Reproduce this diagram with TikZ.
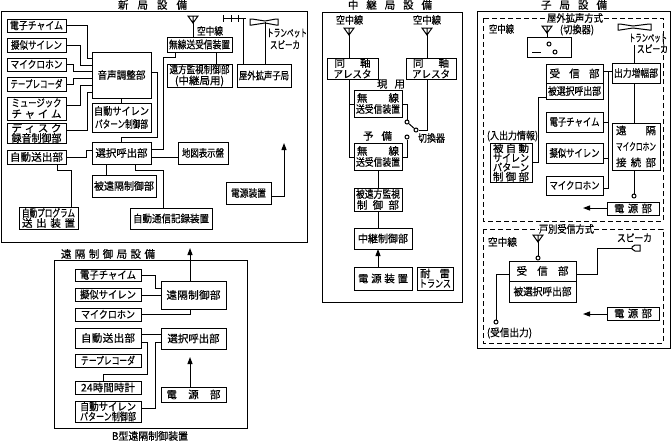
\documentclass[tikz,border=0pt]{standalone}
\usepackage{fontspec}
\usepackage{graphicx}
\usetikzlibrary{arrows.meta}
\setmainfont[FakeBold=0.4]{Noto Sans CJK JP}
\AtBeginDocument{\lineskiplimit=-100pt \lineskip=0pt}

% Evenly distributed characters across a fixed line width
\ExplSyntaxOn
\NewDocumentCommand\spreadchars{m}{\tl_map_inline:nn{#1}{##1\hfill}\unskip}
\ExplSyntaxOff
\newsavebox\fitbox
\newcommand\fit[2]{\leavevmode
  \sbox\fitbox{#2}%
  \vrule width 0pt height 8.5pt depth 1pt
  \ifdim\wd\fitbox>#1pt\relax
    \resizebox{#1pt}{\height}{\usebox\fitbox}%
  \else
    \hbox to #1pt{\spreadchars{#2}}%
  \fi}

\tikzset{
  boxed/.style={draw,line width=1pt,fill=white,inner sep=0pt,outer sep=0pt,align=center,
    font=\fontsize{10.5}{12}\selectfont},
  plain/.style={inner sep=0pt,outer sep=0pt,align=center,font=\fontsize{10.5}{12}\selectfont},
  frame/.style={draw,line width=1pt},
  dashframe/.style={draw,line width=1pt,dash pattern=on 5pt off 3pt},
  wire/.style={draw,line width=1pt},
  feed/.style={draw,line width=1pt,-{Triangle[width=5pt,length=7pt]}},
  port/.style={draw,line width=1pt,fill=white}
}

% Rectangle given by its corners, with a name and content
\newcommand\bx[6]{%
  \pgfmathsetmacro\cxv{(#2+#4)/2}\pgfmathsetmacro\cyv{(#3+#5)/2}%
  \pgfmathsetmacro\wv{#4-#2}\pgfmathsetmacro\hv{#5-#3}%
  \node[boxed,minimum width=\wv pt,minimum height=\hv pt] (#1) at (\cxv,\cyv) {#6};}
% Free label centred between x1 and x2 on height y
\newcommand\lb[5]{%
  \pgfmathsetmacro\cxv{(#2+#3)/2}\pgfmathsetmacro\wv{#3-#2}%
  \node[plain] (#1) at (\cxv,#4) {\fit{\wv}{#5}};}
% Same, masking what lies behind it
\newcommand\lbw[5]{%
  \pgfmathsetmacro\cxv{(#2+#3)/2}\pgfmathsetmacro\wv{#3-#2}%
  \node[plain,fill=white] (#1) at (\cxv,#4) {\fit{\wv}{#5}};}
% Antenna symbol: apex below, flat top
\newcommand\aerial[2]{\draw[wire] (#1-5,#2) -- (#1+5,#2) -- (#1,#2+7) -- cycle (#1,#2) -- (#1,#2+7);}
% Double horn loudspeaker
\newcommand\horn[3]{\draw[wire] (#1,#2) -- (#1+2,#2) -- (#1+15,#2+2) -- (#3-2,#2) -- (#3,#2) -- (#3,#2+6)
  -- (#3-2,#2+6) -- (#1+15,#2+4) -- (#1+2,#2+6) -- (#1,#2+6) -- cycle;}

\begin{document}
\begin{tikzpicture}[x=1pt,y=-1pt]
\useasboundingbox (0,0) rectangle (671,440);

% ---- headquarters equipment ----
\draw[frame] (1,11) rectangle (307,242);
\lb{tShin}{118}{187}{5}{新局設備}
\bx{chime}{7}{19}{66}{32}{\fit{53}{電子チャイム}}
\bx{giji}{7}{38}{66}{52}{\fit{51}{擬似サイレン}}
\bx{mic}{7}{58}{66}{71}{\fit{52}{マイクロホン}}
\bx{tape}{7}{77}{66}{91}{\fit{52}{テープレコーダ}}
\bx{music}{7}{97}{66}{120}{\fit{50}{ミュージック}\\[-1pt]\fit{50}{チャイム}}
\bx{disk}{7}{123}{66}{143}{\fit{50}{ディスク}\\[-2pt]\fit{50}{録音制御部}}
\bx{jido}{7}{150}{66}{164}{\fit{53}{自動送出部}}
\bx{onsei}{92}{52}{151}{98}{\fit{48}{音声調整部}}
\bx{apat}{92}{103}{151}{132}{\fit{55}{自動サイレン}\\[1pt]\fit{53}{パターン制御部}}
\bx{sentaku}{92}{142}{151}{164}{\fit{52}{選択呼出部}}
\bx{hien}{92}{175}{156}{197}{\fit{60}{被遠隔制御部}}
\bx{prog}{19}{207}{78}{229}{\fit{53}{自動プログラム}\\[-2pt]\fit{53}{送出装置}}
\bx{tsushin}{130}{208}{212}{229}{\fit{76}{自動通信記録装置}}
\bx{chizu}{178}{142}{228}{164}{\fit{42}{地図表示盤}}
\bx{psu}{226}{182}{271}{204}{\fit{35}{電源装置}}
\bx{musen}{167}{37}{232}{52}{\fit{61}{無線送受信装置}}
\bx{enpo}{167}{64}{232}{87}{\fit{60}{遠方監視制御部}\\[-1pt]{(中継局用)}}
\bx{okugai}{237}{64}{291}{87}{\fit{50}{屋外拡声子局}}
\lb{tAntA}{197}{223}{31}{空中線}
\lb{tTr}{267}{307}{33}{トランペット}
\lb{tSp}{270}{300}{45}{スピーカ}
\aerial{193}{16}
\coordinate (antA) at (193,23);
\coordinate (yagi) at (243,18);
\coordinate (hornA) at (265,22);
\coordinate (pwrTip) at (284,143);
\draw[wire] (223,18) -- (246,18) (223,15) -- (223,22) (231,15) -- (231,22) (238,15) -- (238,22);
\horn{250}{19}{278}
\draw[wire] (antA) -- (musen.north -| antA);
\draw[wire] (yagi) -- (okugai.north -| yagi);
\draw[wire] (hornA) -- (okugai.north -| hornA);
\draw[wire] (chime.east) -| (87,58) -- (onsei.west |- 0,58);
\draw[wire] (giji.east) -| (80,65) -- (onsei.west |- 0,65);
\draw[wire] (mic.east) -| (73,71) -- (onsei.west |- 0,71);
\draw[wire] (tape.east) -| (73,78) -- (onsei.west |- 0,78);
\draw[wire] (music.east |- 0,105) -| (80,85) -- (onsei.west |- 0,85);
\draw[wire] (disk.east |- 0,130) -| (87,92) -- (onsei.west |- 0,92);
\draw[wire] (onsei.south) -- (apat.north);
\draw[wire] (onsei.east |- 0,72) -| (157,137) -| (sentaku.north);
\draw[wire] (musen.south -| 175,0) -- (175,57) -| (163,149) -- (sentaku.east |- 0,149);
\draw[wire] (sentaku.east |- 0,157) -- (chizu.west |- 0,157);
\draw[wire] (sentaku.south -| 135,0) |- (163,170) -- (tsushin.north -| 163,0);
\draw[wire] (sentaku.south -| 106,0) -- (hien.north -| 106,0);
\draw[wire] (sentaku.west |- 0,150) -| (86,157) -- (jido.east);
\draw[wire] (jido.south -| 57,0) |- (71,170) -- (prog.north -| 71,0);
\draw[wire] (musen.south -| 216,0) -- (enpo.north -| 216,0);
\draw[feed] (psu.east |- 0,196) -| (pwrTip);

% ---- remote control station equipment ----
\draw[frame] (54,260) rectangle (247,428);
\lb{tEnk}{61}{155}{254}{遠隔制御局設備}
\lb{tCap}{112}{188}{436}{B型遠隔制御装置}
\bx{rChime}{75}{269}{141}{281}{\fit{56}{電子チャイム}}
\bx{rGiji}{75}{288}{141}{301}{\fit{56}{擬似サイレン}}
\bx{rMic}{75}{308}{141}{321}{\fit{54}{マイクロホン}}
\bx{rJido}{75}{328}{141}{348}{\fit{54}{自動送出部}}
\bx{rTape}{75}{354}{141}{367}{\fit{54}{テープレコーダ}}
\bx{rClock}{75}{381}{141}{394}{\fit{54}{{24}時間時計}}
\bx{rPat}{75}{401}{141}{422}{\fit{56}{自動サイレン}\\[-2pt]\fit{56}{パターン制御部}}
\bx{rEnk}{161}{281}{226}{309}{\fit{54}{遠隔制御部}}
\bx{rSen}{161}{328}{226}{349}{\fit{52}{選択呼出部}}
\bx{rPsu}{161}{387}{226}{402}{\fit{54}{電源部}}
\coordinate (rUp) at (190,248);
\coordinate (rIn) at (190,357);
\draw[feed] (rEnk.north -| rUp) -- (rUp);
\draw[feed] (rPsu.north -| rIn) -- (rIn);
\draw[wire] (rChime.east) -| (155,288) -- (rEnk.west |- 0,288);
\draw[wire] (rGiji.east |- 0,295) -- (rEnk.west |- 0,295);
\draw[wire] (rMic.east) -| (rEnk.south -| rUp);
\draw[wire] (rJido.east |- 0,334) -- (rSen.west |- 0,334);
\draw[wire] (rJido.east |- 0,342) -| (147,374) -| (rClock.north -| 103,0);
\draw[wire] (rPat.east |- 0,408) -| (155,342) -- (rSen.west |- 0,342);

% ---- relay station equipment ----
\draw[frame] (322,12) rectangle (462,302);
\lb{tChu}{348}{432}{5}{中継局設備}
\lb{tAntB}{336}{363}{20}{空中線}
\lb{tAntC}{413}{441}{20}{空中線}
\aerial{349}{28}
\aerial{427}{28}
\coordinate (antB) at (349,35);
\coordinate (antC) at (427,35);
\bx{arrL}{327}{58}{378}{79}{\fit{36}{同軸}\\[-1pt]\fit{38}{アレスタ}}
\bx{arrR}{406}{58}{456}{79}{\fit{36}{同軸}\\[-1pt]\fit{38}{アレスタ}}
\lb{tGen}{377}{405}{84}{現用}
\lb{tYo}{363}{392}{136}{予備}
\lb{tKir}{418}{445}{138}{切換器}
\bx{mUp}{354}{90}{402}{117}{\fit{42}{無線}\\[-1pt]\fit{44}{送受信装置}}
\bx{mLo}{354}{143}{402}{170}{\fit{42}{無線}\\[-1pt]\fit{44}{送受信装置}}
\bx{kan}{354}{188}{402}{211}{\fit{44}{被遠方監視}\\[-1pt]\fit{42}{制御部}}
\bx{chk}{354}{228}{412}{249}{\fit{50}{中継制御部}}
\bx{cPsu}{354}{267}{412}{290}{\fit{50}{電源装置}}
\bx{rai}{417}{267}{453}{290}{\fit{30}{耐雷}\\[-2pt]\fit{32}{トランス}}
\node[port,circle,inner sep=0pt,minimum size=4pt] (swA) at (407,122) {};
\node[port,circle,inner sep=0pt,minimum size=4pt] (swB) at (407,137) {};
\node[port,circle,inner sep=0pt,minimum size=4pt] (swC) at (416,130) {};
\draw[wire] (antB) -- (arrL.north -| antB);
\draw[wire] (antC) -- (arrR.north -| antC);
\draw[wire] (arrL.south -| antB) |- (mLo.west |- 0,157);
\draw[wire] (mUp.west |- 0,104) -- (349,104);
\draw[wire] (mUp.east |- 0,104) -| (swA.north);
\draw[wire] (mLo.east |- 0,157) -| (swB.south);
\draw[wire] (swA) -- (swC);
\draw[wire] (swC.east) -| (arrR.south -| antC);
\draw[wire] (mLo.south) -- (kan.north);
\draw[wire] (kan.south) -- (chk.north -| kan.south);
\draw[feed] (cPsu.north -| kan.south) -- (chk.south -| kan.south);

% ---- substation equipment ----
\draw[frame] (477,11) rectangle (670,348);
\lb{tKo}{541}{607}{5}{子局設備}
\draw[dashframe] (483,18) rectangle (663,221);
\lbw{tOku}{547}{603}{18}{屋外拡声方式}
\lb{tKiri}{560}{594}{30}{(切換器)}
\lb{tAntD}{489}{514}{29}{空中線}
\aerial{547}{26}
\coordinate (antD) at (547,33);
\bx{swBox}{527}{37}{571}{57}{}
\node[port,circle,inner sep=0pt,minimum size=4pt] (kA) at (549,44) {};
\node[port,circle,inner sep=0pt,minimum size=4pt] (kB) at (555,52) {};
\draw[wire] (532,52) -- (541,52);
\draw[wire] (antD) -- (swBox.north -| antD);
\horn{618}{24}{651}
\lb{tTrB}{629}{667}{38}{トランペット}
\lb{tSpB}{637}{668}{49}{スピーカ}
\coordinate (hornB) at (634,45);
\bx{out}{612}{63}{660}{83}{\fit{44}{出力増幅部}}
\bx{rcv}{546}{64}{603}{83}{\fit{50}{受信部}}
\bx{sel}{546}{83}{603}{99}{\fit{53}{被選択呼出部}}
\bx{sChime}{546}{112}{603}{132}{\fit{50}{電子チャイム}}
\bx{sGiji}{546}{143}{603}{163}{\fit{50}{擬似サイレン}}
\bx{sMic}{546}{176}{603}{195}{\fit{50}{マイクロホン}}
\bx{kei}{612}{123}{660}{170}{\fit{40}{遠隔}\\[4pt]\fit{40}{マイクロホン}\\[4pt]\fit{40}{接続部}}
\bx{sPat}{490}{143}{532}{182}{\fit{36}{被自動}\\[-2.5pt]\fit{36}{サイレン}\\[-2.5pt]\fit{36}{パターン}\\[-2.5pt]\fit{36}{制御部}}
\lb{tIO}{487}{538}{136}{(入出力情報)}
\bx{sPsu}{607}{202}{659}{215}{\fit{38}{電源部}}
\coordinate (sTip) at (583,208);
\node[port,circle,inner sep=0pt,minimum size=4pt] (sPort) at (634,196) {};
\draw[wire] (hornB) -- (out.north -| hornB);
\draw[wire] (out.south -| hornB) -- (kei.north -| hornB);
\draw[wire] (kei.south -| hornB) -- (sPort);
\draw[wire] (rcv.east |- 0,71) -- (out.west |- 0,71);
\draw[wire] (608,71) |- (sMic.east |- 0,188);
\draw[wire] (sChime.east |- 0,122) -- (608,122);
\draw[wire] (sGiji.east |- 0,158) -- (608,158);
\draw[wire] (sel.west |- 0,97) -| (538,162) -- (sPat.east |- 0,162);
\draw[feed] (sPsu.west |- 0,208) -- (sTip);

\draw[dashframe] (483,229) rectangle (663,343);
\lbw{tKob}{539}{594}{229}{戸別受信方式}
\lb{tAntE}{488}{517}{242}{空中線}
\lb{tSpE}{617}{652}{238}{スピーカ}
\lb{tOutE}{487}{532}{333}{(受信出力)}
\aerial{538}{235}
\coordinate (antE) at (538,242);
\node[port,circle,inner sep=0pt,minimum size=4pt] (ePort) at (538,258) {};
\bx{eRcv}{509}{261}{576}{281}{\fit{52}{受信部}}
\bx{eSel}{509}{281}{576}{302}{\fit{58}{被選択呼出部}}
\node[port,circle,inner sep=0pt,minimum size=4pt] (eOut) at (496,322) {};
\bx{ePsu}{607}{307}{659}{320}{\fit{38}{電源部}}
\coordinate (eHorn) at (632,248);
\coordinate (eTip) at (583,314);
\draw[wire] (632,247) -- (635,245) -- (640,245) -- (640,251) -- (635,251) -- (632,249) -- cycle;
\draw[wire] (antE) -- (ePort);
\draw[wire] (eRcv.east |- 0,274) -| (597,248) -- (eHorn);
\draw[wire] (eRcv.west |- 0,274) -| (eOut.north);
\draw[feed] (ePsu.west |- 0,314) -- (eTip);
\end{tikzpicture}
\end{document}
